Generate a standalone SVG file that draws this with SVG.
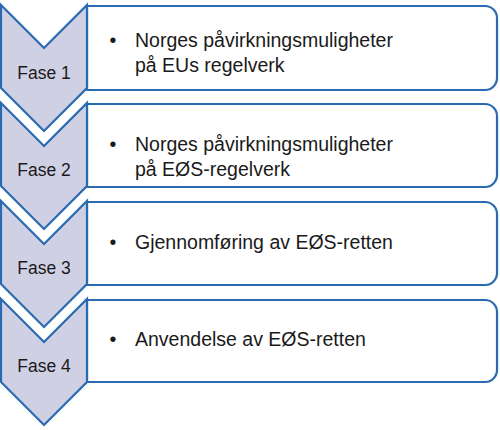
<svg xmlns="http://www.w3.org/2000/svg" width="500" height="430" viewBox="0 0 500 430">
<style>
.box{fill:#ffffff;stroke:#2a6ab1;stroke-width:2.2;stroke-linejoin:round}
.chev{fill:#cfd0e4;stroke:#2a6ab1;stroke-width:2.2;stroke-linejoin:miter}
.fase{font-family:"Liberation Sans",Arial,sans-serif;font-size:17.5px;fill:#1a1a1a;text-anchor:middle}
.txt{font-family:"Liberation Sans",Arial,sans-serif;font-size:19.5px;fill:#1a1a1a}
.bul{font-family:"Liberation Sans",Arial,sans-serif;font-size:19.5px;fill:#1a1a1a;text-anchor:middle}
</style>
<rect width="500" height="430" fill="#ffffff"/>
<g id="connectors"></g>
<g id="fase1">
<path class="box" d="M87,6 H485 A12,12 0 0 1 497,18 V78 A12,12 0 0 1 485,90 H87 Z"/>
<path class="chev" d="M1,5 L44,48 L87,5 V88 L44,131 L1,88 Z"/>
<text class="fase" x="44" y="79">Fase 1</text>
<text class="bul" x="113" y="47">•</text>
<text class="txt" x="135" y="47">Norges påvirkningsmuligheter</text>
<text class="txt" x="135" y="72">på EUs regelverk</text>
</g>
<g id="fase2">
<path class="box" d="M87,104 H485 A12,12 0 0 1 497,116 V175 A12,12 0 0 1 485,187 H87 Z"/>
<path class="chev" d="M1,103 L44,146 L87,103 V186 L44,229 L1,186 Z"/>
<text class="fase" x="44" y="176">Fase 2</text>
<text class="bul" x="113" y="151">•</text>
<text class="txt" x="135" y="151">Norges påvirkningsmuligheter</text>
<text class="txt" x="135" y="176">på EØS-regelverk</text>
</g>
<g id="fase3">
<path class="box" d="M87,202 H485 A12,12 0 0 1 497,214 V273 A12,12 0 0 1 485,285 H87 Z"/>
<path class="chev" d="M1,201 L44,244 L87,201 V284 L44,327 L1,284 Z"/>
<text class="fase" x="44" y="274">Fase 3</text>
<text class="bul" x="113" y="249">•</text>
<text class="txt" x="135" y="249">Gjennomføring av EØS-retten</text>
</g>
<g id="fase4">
<path class="box" d="M87,300 H485 A12,12 0 0 1 497,312 V370 A12,12 0 0 1 485,382 H87 Z"/>
<path class="chev" d="M1,299 L44,342 L87,299 V382 L44,425 L1,382 Z"/>
<text class="fase" x="44" y="372">Fase 4</text>
<text class="bul" x="113" y="346">•</text>
<text class="txt" x="135" y="346">Anvendelse av EØS-retten</text>
</g>
</svg>
